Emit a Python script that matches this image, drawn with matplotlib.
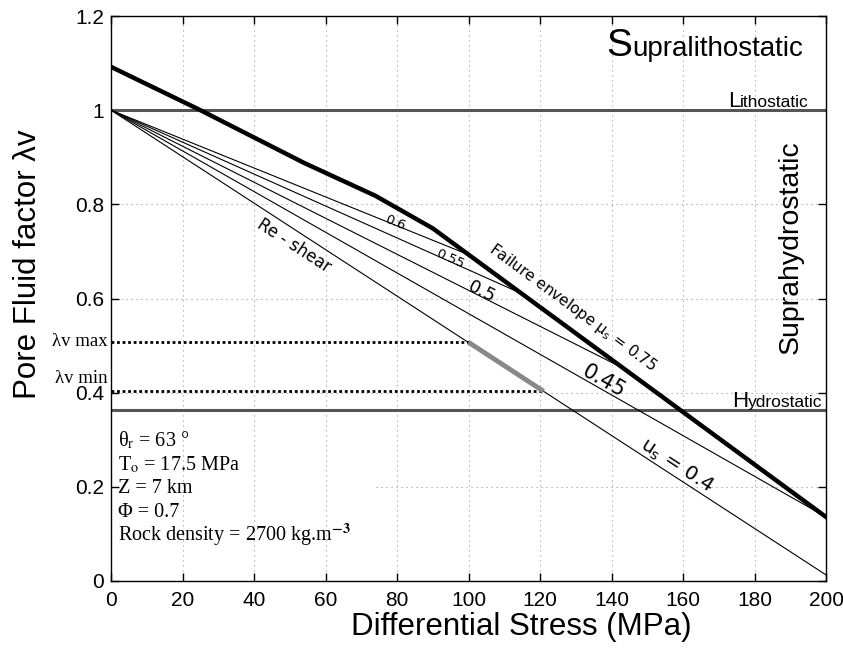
import numpy as np
import matplotlib
matplotlib.use("Agg")
import matplotlib.pyplot as plt

# ---- data ----
x_ticks = [0, 20, 40, 60, 80, 100, 120, 140, 160, 180, 200]
y_ticks = [0, 0.2, 0.4, 0.6, 0.8, 1.0, 1.2]
y_tick_labels = ["0", "0.2", "0.4", "0.6", "0.8", "1", "1.2"]

# failure envelope (mu_s = 0.75)
env_x = [0, 25, 54, 74, 90, 200]
env_y = [1.092, 1.0, 0.888, 0.818, 0.749, 0.136]

# re-shear lines from (0, 1) to where they meet the envelope
mu_vals = [0.6, 0.55, 0.5, 0.45, 0.4]
mu_end_x = [100, 115, 143, 200, 200]
mu_end_y = [0.693, 0.610, 0.453, 0.136, 0.013]

lithostatic = 1.0
hydrostatic = 0.363
lam_max = 0.507
lam_min = 0.403
lam_max_x = 100
lam_min_x = 121
seg_x = [100, 121]
seg_y = [0.507, 0.403]

grid_y = [0.2, 0.4, 0.6, 0.8]
grid_y_start = [74, 0, 0, 0]

params = ["θ$_\\mathrm{r}$ = 63 °",
          "T$_\\mathrm{o}$ = 17.5 MPa",
          "Z = 7 km",
          "Φ = 0.7",
          "Rock density = 2700 kg.m$^{\\mathbf{-3}}$"]
params_y = [0.299, 0.246, 0.197, 0.146, 0.0975]

sans = "Liberation Sans"
serif = "Liberation Serif"

fig = plt.figure(figsize=(8.43, 6.49), dpi=100)
ax = fig.add_axes([111/843, 1-581/649, (826-111)/843, (581-16)/649])
ax.set_xlim(0, 200)
ax.set_ylim(0, 1.2)

# grid
for gx in x_ticks[1:-1]:
    ax.axvline(gx, color="#999999", lw=0.8, ls=(0, (1, 3.5)), zorder=0)
ax.hlines(grid_y, grid_y_start, 200, color="#999999", lw=0.8,
          linestyles=[(0, (1, 3.5))], zorder=0)

# lithostatic / hydrostatic
ax.axhline(lithostatic, color="#555555", lw=2.2, zorder=2)
ax.axhline(hydrostatic, color="#555555", lw=2.2, zorder=2)

# thin lines
for ex, ey in zip(mu_end_x, mu_end_y):
    ax.plot([0, ex], [1, ey], color="black", lw=0.8, zorder=3)

# envelope
ax.plot(env_x, env_y, color="black", lw=3.2, solid_joinstyle="miter", zorder=4)

# lambda range
ax.plot([0, lam_max_x], [lam_max, lam_max], color="black", lw=2, ls=(0, (1, 1)), zorder=3)
ax.plot([0, lam_min_x], [lam_min, lam_min], color="black", lw=2, ls=(0, (1, 1)), zorder=3)
ax.plot(seg_x, seg_y, color="#888888", lw=3.5, solid_capstyle="butt", zorder=3)

# axes styling
ax.set_xticks(x_ticks)
ax.set_yticks(y_ticks)
ax.set_yticklabels(y_tick_labels)
ax.tick_params(direction="in", length=6, width=1, top=True, right=True,
               labelsize=15)
ax.tick_params(axis="x", pad=7)
ax.tick_params(axis="y", pad=5)
for lab in ax.get_xticklabels() + ax.get_yticklabels():
    lab.set_fontfamily(sans)
for sp in ax.spines.values():
    sp.set_linewidth(1)

ax.set_xlabel("Differential Stress (MPa)", fontsize=22.5, family=sans, va="center")
ax.xaxis.set_label_coords(0.574, -0.081)
ax.set_ylabel("Pore Fluid factor λv", fontsize=22.5, family=sans, va="center")
ax.yaxis.set_label_coords(-0.116, 0.56)

# line labels
def slope_angle(x0, y0, x1, y1):
    return np.degrees(np.arctan2(y1 - y0, x1 - x0))

line_labels = [
    ("Re - shear", 51.2, 0.712, 0.4, 12),
    ("0.6", 79.4, 0.761, 0.6, 9.5),
    ("0.55", 94.8, 0.685, 0.55, 9.5),
    ("0.5", 103.8, 0.613, 0.5, 13),
    ("0.45", 137.9, 0.424, 0.45, 15),
    ("u$_\\mathrm{s}$ = 0.4", 158.3, 0.244, 0.4, 14.5),
]
for txt, tx, ty, mu, fs in line_labels:
    i = mu_vals.index(mu)
    ang = slope_angle(0, 1, mu_end_x[i], mu_end_y[i])
    ax.text(tx, ty, txt, fontsize=fs, family="DejaVu Sans", rotation=ang,
            transform_rotates_text=True, rotation_mode="anchor",
            ha="center", va="center", zorder=5)

ax.text(129, 0.58, "Failure envelope μ$_\\mathrm{s}$ = 0.75", fontsize=11,
        family="DejaVu Sans",
        rotation=slope_angle(env_x[4], env_y[4], env_x[5], env_y[5]),
        transform_rotates_text=True, rotation_mode="anchor",
        ha="center", va="center", zorder=5)

# region labels
t = ax.text(193.5, 1.115, "upralithostatic", fontsize=20, family=sans,
            ha="right", va="baseline")
ax.annotate("S", xy=(0, 1.115), xycoords=(t, "data"), fontsize=28,
            family=sans, ha="right", va="baseline")

t = ax.text(195.2, 1.006, "ithostatic", fontsize=12.5, family=sans,
            ha="right", va="baseline")
ax.annotate("L", xy=(0, 1.006), xycoords=(t, "data"), fontsize=16,
            family=sans, ha="right", va="baseline")

t = ax.text(199.1, 0.369, "ydrostatic", fontsize=12.5, family=sans,
            ha="right", va="baseline")
ax.annotate("H", xy=(0, 0.369), xycoords=(t, "data"), fontsize=16,
            family=sans, ha="right", va="baseline")

ax.text(190, 0.708, "Suprahydrostatic", fontsize=20.5, family=sans,
        rotation=90, ha="center", va="center")

# lambda labels outside the axes
ax.text(-1.0, lam_max + 0.002, "λv max", fontsize=13.5, family=serif,
        ha="right", va="center", clip_on=False)
ax.text(-1.0, lam_min + 0.027, "λv min", fontsize=13.5, family=serif,
        ha="right", va="center", clip_on=False)

# parameter block
for txt, py in zip(params, params_y):
    ax.text(2, py, txt, fontsize=14.5, family=serif, math_fontfamily="stix",
            ha="left", va="center")

fig.savefig("out.png", dpi=100)
